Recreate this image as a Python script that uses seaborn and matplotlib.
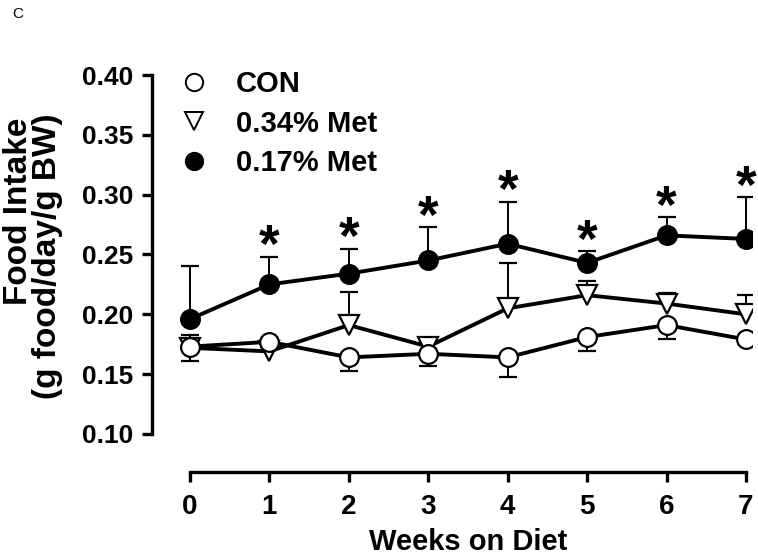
import numpy as np
import pandas as pd
import matplotlib
matplotlib.use("Agg")
import matplotlib.pyplot as plt
from matplotlib.lines import Line2D
import seaborn as sns

# --- data (mean + one-sided SEM) ---
weeks = [0, 1, 2, 3, 4, 5, 6, 7]

con_mean = [0.173, 0.177, 0.164, 0.167, 0.164, 0.181, 0.191, 0.179]
con_sem = [0.012, 0.004, 0.011, 0.010, 0.016, 0.012, 0.012, 0.004]

met34_mean = [0.172, 0.169, 0.191, 0.173, 0.205, 0.216, 0.209, 0.200]
met34_sem = [0.011, 0.004, 0.028, 0.005, 0.038, 0.012, 0.009, 0.016]

met17_mean = [0.196, 0.225, 0.234, 0.245, 0.259, 0.243, 0.266, 0.263]
met17_sem = [0.044, 0.023, 0.021, 0.028, 0.035, 0.010, 0.015, 0.035]

star_weeks = [1, 2, 3, 4, 5, 6, 7]

yticks = [0.10, 0.15, 0.20, 0.25, 0.30, 0.35, 0.40]
ytick_labels = ["0.10", "0.15", "0.20", "0.25", "0.30", "0.35", "0.40"]

# --- style ---
sns.set_style("ticks", rc={
    "axes.edgecolor": "black", "xtick.color": "black", "ytick.color": "black",
    "text.color": "black", "axes.labelcolor": "black",
})
plt.rcParams["font.family"] = ["Liberation Sans", "DejaVu Sans"]
plt.rcParams["font.weight"] = "bold"

fig = plt.figure(figsize=(7.58, 5.57), dpi=100)
ax = fig.add_axes([0.2005, 0.1526, 0.7916, 0.7217])

# label, mean, sem, marker, face, error direction, zorder
series = [
    ("0.17% Met", met17_mean, met17_sem, "o", "black", "up", 3),
    ("0.34% Met", met34_mean, met34_sem, "v", "white", "up", 4),
    ("CON", con_mean, con_sem, "o", "white", "down", 5),
]

for label, mean, sem, mk, face, direction, z in series:
    df = pd.DataFrame({"week": weeks, "val": mean})
    ms = 14 if mk == "v" else 13.5
    sns.lineplot(data=df, x="week", y="val", color="black", lw=2.8,
                 marker=mk, ms=ms, mfc=face, mec="black", mew=1.6,
                 errorbar=None, zorder=z, ax=ax)
    zeros = np.zeros(len(sem))
    yerr = [zeros, sem] if direction == "up" else [sem, zeros]
    eb = ax.errorbar(weeks, mean, yerr=yerr, fmt="none", ecolor="black",
                     elinewidth=1.4, capsize=6.8, capthick=1.6, zorder=2)
    # keep only the cap at the far end of each bar
    for cap in eb[1]:
        if np.allclose(cap.get_ydata(), mean):
            cap.set_visible(False)

# significance stars above the 0.17% Met bars
for w in star_weeks:
    i = weeks.index(w)
    top = met17_mean[i] + met17_sem[i]
    ax.annotate("*", (w, top), xytext=(0, -4), textcoords="offset points",
                ha="center", va="baseline", fontsize=38, fontweight="bold")

# --- axes ---
ax.set_xlim(-0.478, 7.076)
ax.set_ylim(0.0682, 0.4042)
ax.set_xticks(weeks)
ax.set_xticklabels([str(w) for w in weeks], fontsize=20, fontweight="bold")
ax.set_yticks(yticks)
ax.set_yticklabels(ytick_labels, fontsize=19, fontweight="bold")
ax.tick_params(axis="both", width=2.4, length=7.5)
ax.tick_params(axis="x", pad=8)
ax.tick_params(axis="y", pad=6)
for side in ["top", "right"]:
    ax.spines[side].set_visible(False)
for side in ["left", "bottom"]:
    ax.spines[side].set_linewidth(2.4)
ax.spines["left"].set_bounds(0.10, 0.40)
ax.spines["bottom"].set_bounds(0, 7)

ax.set_ylabel("")
ax.set_xlabel("Weeks on Diet", fontsize=21, fontweight="bold",
              x=(3.5 + 0.478) / (7.076 + 0.478), labelpad=6)

fig.text(19 / 758, 1 - 211 / 557, "Food Intake", rotation=90, fontsize=24,
         fontweight="bold", ha="center", va="center")
fig.text(48 / 758, 1 - 256 / 557, "(g food/day/g BW)", rotation=90, fontsize=24,
         fontweight="bold", ha="center", va="center")

# legend: markers only
handles = [
    Line2D([], [], ls="none", marker="o", ms=12.5, mfc="white", mec="black", mew=1.4),
    Line2D([], [], ls="none", marker="v", ms=13, mfc="white", mec="black", mew=1.4),
    Line2D([], [], ls="none", marker="o", ms=12.5, mfc="black", mec="black", mew=1.4),
]
fig.legend(handles, ["CON", "0.34% Met", "0.17% Met"], loc="upper left",
           bbox_to_anchor=(179 / 758, 1 - 70 / 557), frameon=False,
           borderpad=0, borderaxespad=0, handlelength=1.0, handletextpad=0.95,
           labelspacing=0.4, prop={"size": 21, "weight": "bold"})

fig.text(0.016, 0.988, "C", fontsize=11, fontweight="normal", va="top", ha="left")

fig.savefig("out.png", dpi=100)
